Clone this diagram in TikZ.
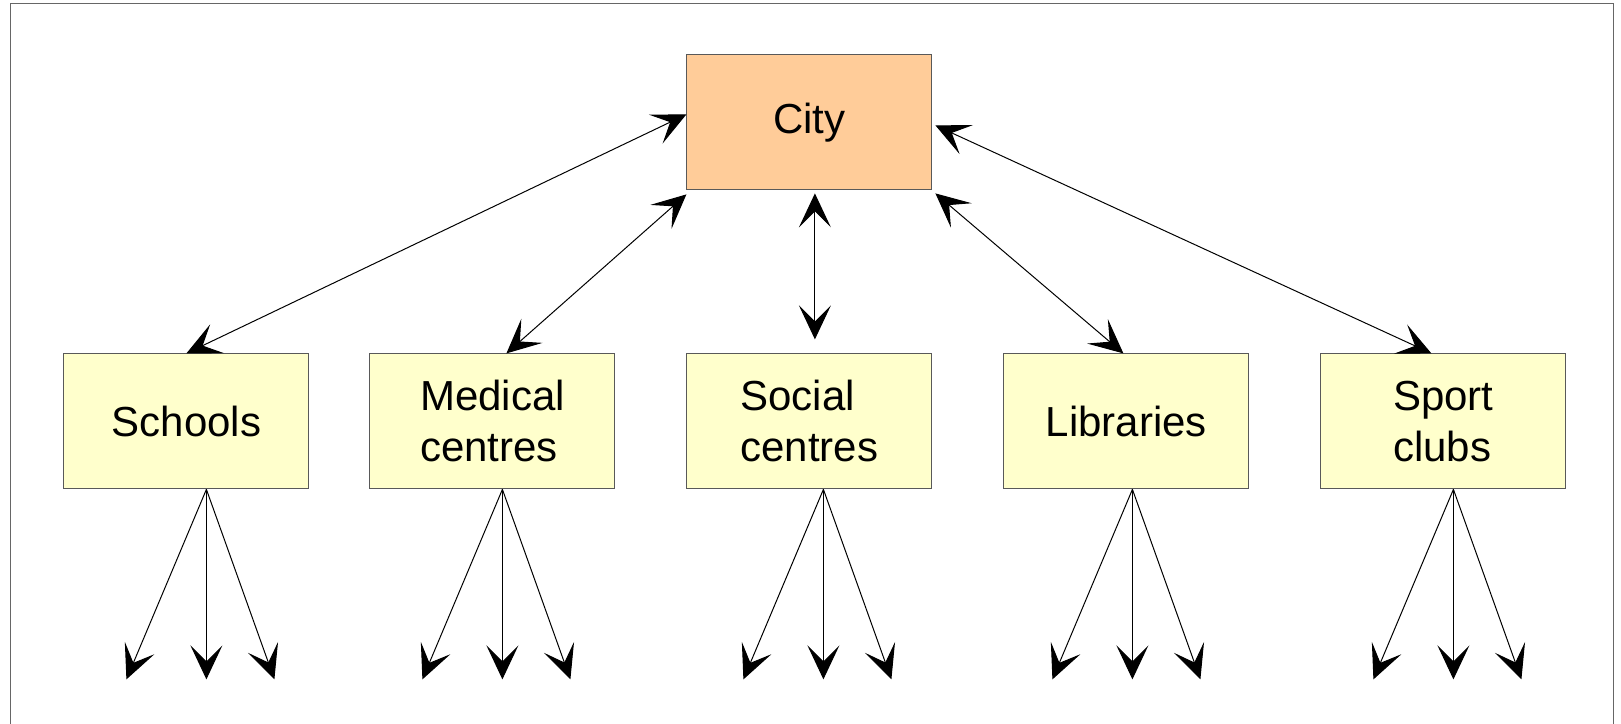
\documentclass[tikz,border=0pt]{standalone}
\usepackage{fontspec}
\setmainfont{Liberation Sans}
\usetikzlibrary{matrix,arrows.meta}
\definecolor{cityfill}{HTML}{FFCC99}
\definecolor{boxfill}{HTML}{FFFFCC}

\begin{document}
\begin{tikzpicture}[>={Stealth[length=17pt,width=16pt,inset=8pt]},
                    block/.style={draw=black!65, line width=0.5pt, fill=boxfill, rectangle, align=left,
                                  minimum width=122.5pt, minimum height=67.5pt,
                                  font=\fontsize{21pt}{25.5pt}\selectfont},
                    city/.style={block, fill=cityfill},
                    ra/.style={<->, line width=0.5pt},
                    fan/.style={->, line width=0.5pt}]

\useasboundingbox (0,0) rectangle (810.5pt,361.5pt);
\draw [black!60, line width=0.5pt] (5pt,-2pt) |- (806.5pt,359.5pt) -- (806.5pt,-2pt);

\matrix[anchor=north west, inner sep=0pt, column sep=35.5pt, row sep=81.5pt] at (31.5pt,334.5pt) {

&[-5.5pt] & \node [city] (city) {City}; & & \\

\node [block] (school) {Schools}; &[-5.5pt]
\node [block] (med) {Medical\\centres}; &
\node [block] (soc) {Social\\centres}; &
\node [block] (lib) {Libraries}; &
\node [block] (sport) {Sport\\clubs}; \\};

\draw [ra] ([yshift=4pt]city.west) -- (school.north);
\draw [ra] ([yshift=-2pt]city.south west) -- ([xshift=7pt]med.north);
\draw [ra] ([xshift=2.75pt,yshift=-1.5pt]city.south) -- ([xshift=2.75pt,yshift=7pt]soc.north);
\draw [ra] ([xshift=1.5pt,yshift=-1.5pt]city.south east) -- ([xshift=-1.5pt]lib.north);
\draw [ra] ([xshift=1.5pt,yshift=-1.5pt]city.east) -- ([xshift=-6pt]sport.north);

\foreach \n/\s in {school/10pt, med/5pt, soc/7pt, lib/3pt, sport/5pt} {
  \coordinate (\n-o) at ([xshift=\s]\n.south);
  \foreach \dx/\k in {-40pt/a, 0pt/b, 34pt/c} {
    \coordinate (\n-\k) at ([xshift=\dx, yshift=-95pt]\n-o);
    \draw [fan] (\n-o) -- (\n-\k);
  }
}
\end{tikzpicture}
\end{document}
